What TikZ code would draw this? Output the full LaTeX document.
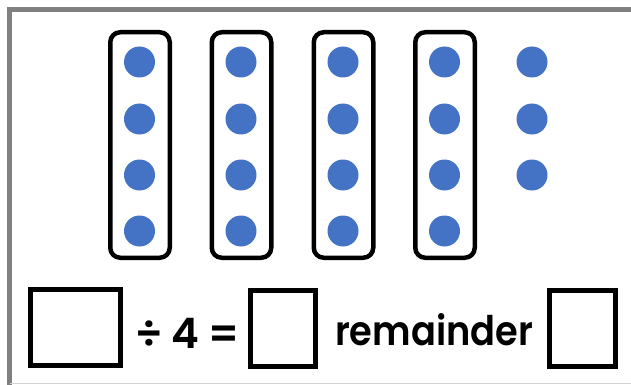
\documentclass[tikz,border=0pt]{standalone}
\usepackage{fontspec}
\setmainfont{Poppins}[BoldFont={Poppins SemiBold}]
\definecolor{dotblue}{HTML}{4472C4}
\definecolor{framegray}{HTML}{808080}
\begin{document}
\begin{tikzpicture}[x=1pt,y=-1pt,
  dot/.style={circle,fill=dotblue,inner sep=0pt,minimum size=31pt},
  group/.style={draw=black,line width=4.5pt,rounded corners=10pt,inner sep=0pt,minimum width=59.5pt,minimum height=225.5pt},
  blank/.style={draw=black,line width=5pt,inner sep=0pt,minimum height=76pt},
  txt/.style={inner sep=0pt,anchor=base,font=\fontsize{42}{42}\selectfont\bfseries},
  word/.style={inner sep=0pt,anchor=base,font=\fontsize{36}{36}\selectfont\bfseries}]
\useasboundingbox (0,0) rectangle (631,385);
\fill[white] (0,0) rectangle (631,385);
\draw[framegray,line width=5pt] (631,9.5) -- (9.5,9.5) -- (9.5,385);
\draw[gray!35,line width=1.2pt] (9.5,383.6) -- (631,383.6);
% groups
\foreach \i/\x in {1/140,2/241.5,3/343.5,4/445}{
  \node[group] (g\i) at (\x,145) {};
}
\foreach \i/\x in {1/139.5,2/241,3/343,4/444.5}{
  \foreach \j/\y in {1/62,2/119,3/175,4/231}{
    \node[dot] (d\i\j) at (\x,\y) {};
  }
}
\foreach \j/\y in {1/62,2/119,3/175}{
  \node[dot] (d5\j) at (532,\y) {};
}
% equation
\node[blank,minimum width=90pt] (b1) at (75.5,327.5) {};
\node[blank,minimum width=65pt] (b2) at (283,328) {};
\node[blank,minimum width=66pt] (b3) at (582.5,328) {};
\node[txt] (div) at (149.5,348) {÷};
\node[txt] (four) at (185,348) {4};
\node[txt] (eq) at (223.5,348) {=};
\node[word] (rem) at (434,345) {\resizebox{198pt}{32pt}{remainder}};
\end{tikzpicture}
\end{document}
